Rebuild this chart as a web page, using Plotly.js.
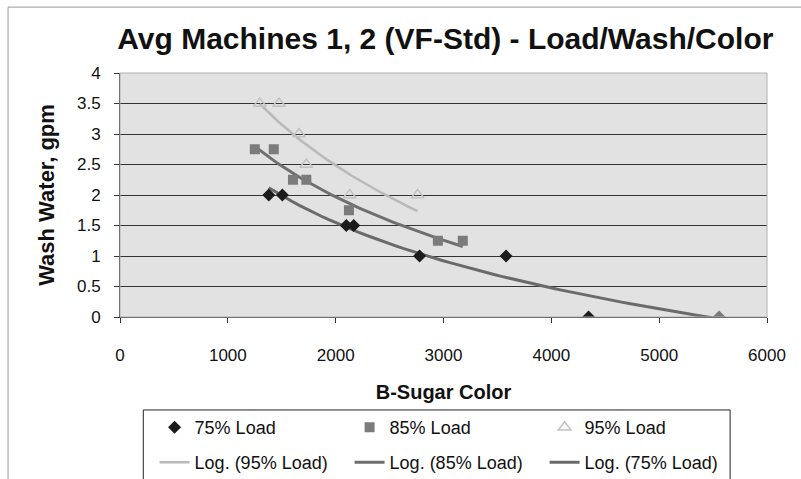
<!DOCTYPE html>
<html>
<head>
<meta charset="utf-8">
<script src="https://cdn.plot.ly/plotly-3.0.1.min.js"></script>
<style>
html,body{margin:0;padding:0;background:#fff;}
#chart{width:801px;height:479px;}
</style>
</head>
<body>
<div id="chart"></div>
<script>
// ---- data ----
const load75X = [1380, 1506, 2099, 2167, 2778, 3580, 4345, 5556];
const load75Y = [2.0, 2.0, 1.5, 1.5, 1.0, 1.0, 0.0, 0.0];
const load85X = [1250, 1426, 1604, 1728, 2123, 2948, 3179];
const load85Y = [2.75, 2.75, 2.25, 2.25, 1.75, 1.25, 1.25];
const load95X = [1296, 1475, 1660, 1728, 2130, 2760];
const load95Y = [3.5, 3.5, 3.0, 2.5, 2.0, 2.0];
const seriesNames = ['75% Load', '85% Load', '95% Load'];
const xTickVals = [0, 1000, 2000, 3000, 4000, 5000, 6000];
const yTickVals = [0, 0.5, 1, 1.5, 2, 2.5, 3, 3.5, 4];

// Excel-style logarithmic trendline: y = a*ln(x) + b, over the series range
function logFit(xs, ys) {
  const n = xs.length;
  const lx = xs.map(Math.log);
  const mx = lx.reduce((s, v) => s + v, 0) / n;
  const my = ys.reduce((s, v) => s + v, 0) / n;
  let sxy = 0, sxx = 0;
  for (let i = 0; i < n; i++) { sxy += (lx[i] - mx) * (ys[i] - my); sxx += (lx[i] - mx) ** 2; }
  const a = sxy / sxx, b = my - a * mx;
  const lo = Math.min(...xs), hi = Math.max(...xs);
  const tx = [], ty = [];
  for (let k = 0; k <= 60; k++) { const x = lo + (hi - lo) * k / 60; tx.push(x); ty.push(a * Math.log(x) + b); }
  return {x: tx, y: ty};
}
const t75 = logFit(load75X, load75Y);
const t85 = logFit(load85X, load85Y);
const t95 = logFit(load95X, load95Y);

const FONT = 'Liberation Sans, Arial, sans-serif';
const traces = [
  {x: t95.x, y: t95.y, mode: 'lines', name: 'Log. (95% Load)', legend: 'legend2',
   line: {color: '#b9b9b9', width: 2.5}},
  {x: t85.x, y: t85.y, mode: 'lines', name: 'Log. (85% Load)', legend: 'legend2',
   line: {color: '#6f6f6f', width: 3}},
  {x: t75.x, y: t75.y, mode: 'lines', name: 'Log. (75% Load)', legend: 'legend2',
   line: {color: '#6a6a6a', width: 3}},
  {x: load75X, y: load75Y, mode: 'markers', name: seriesNames[0], legend: 'legend',
   marker: {symbol: 'diamond', size: 10, color: ['#1c1c1c','#1c1c1c','#1c1c1c','#1c1c1c','#1c1c1c','#1c1c1c','#1c1c1c','#7a7a7a']}},
  {x: load85X, y: load85Y, mode: 'markers', name: seriesNames[1], legend: 'legend',
   marker: {symbol: 'square', size: 10, color: '#7b7b7b'}},
  {x: load95X, y: load95Y, mode: 'markers', name: seriesNames[2], legend: 'legend',
   marker: {symbol: 'triangle-up-open', size: 11, color: '#c2c2c2', line: {width: 1.5}}}
];

const layout = {
  width: 801, height: 479,
  margin: {l: 120, r: 34, t: 73, b: 162, autoexpand: false},
  paper_bgcolor: '#ffffff',
  plot_bgcolor: '#e2e2e2',
  font: {family: FONT, color: '#111', size: 16},
  title: {text: 'Avg Machines 1, 2 (VF-Std) - Load/Wash/Color',
          font: {family: FONT, size: 30, color: '#111', weight: 'bold'},
          x: 0.556, xanchor: 'center', y: 0.92, yanchor: 'middle'},
  xaxis: {range: [0, 6000], tickvals: xTickVals, ticks: 'outside', ticklen: 5, tickcolor: '#333',
          ticklabelstandoff: 18,
          showgrid: false, zeroline: false, showline: true, linecolor: '#333', linewidth: 1,
          tickfont: {size: 17, family: FONT, color: '#111'},
          title: {text: 'B-Sugar Color', font: {size: 20, family: FONT, weight: 'bold', color: '#111'}, standoff: 20}},
  yaxis: {range: [0, 4], tickvals: yTickVals, ticks: 'outside', ticklen: 5, tickcolor: '#333',
          ticklabelstandoff: 10,
          showgrid: true, gridcolor: '#333', gridwidth: 1, zeroline: false,
          showline: true, linecolor: '#333', linewidth: 1,
          tickfont: {size: 17, family: FONT, color: '#111'},
          title: {text: 'Wash Water, gpm', font: {size: 22, family: FONT, weight: 'bold', color: '#111'}, standoff: 16}},
  legend: {orientation: 'h', xref: 'container', yref: 'container', x: 0.193, xanchor: 'left', y: 0.146, yanchor: 'top',
           entrywidth: 150, bgcolor: 'rgba(0,0,0,0)', borderwidth: 0,
           font: {size: 18, family: FONT, color: '#111'}},
  legend2: {orientation: 'h', xref: 'container', yref: 'container', x: 0.193, xanchor: 'left', y: 0.073, yanchor: 'top',
           entrywidth: 150, bgcolor: 'rgba(0,0,0,0)', borderwidth: 0,
           font: {size: 18, family: FONT, color: '#111'}},
  shapes: [
    {type: 'rect', xref: 'paper', yref: 'paper', x0: 0.036, x1: 0.943, y0: -0.381, y1: -0.72,
     line: {color: '#222', width: 1}, fillcolor: 'rgba(0,0,0,0)', layer: 'below'},
    {type: 'rect', xref: 'paper', yref: 'paper', x0: 0, x1: 1, y0: 0, y1: 1,
     line: {color: '#b0b0b0', width: 1}, fillcolor: 'rgba(0,0,0,0)'},
    {type: 'rect', xref: 'paper', yref: 'paper', x0: -0.173, x1: 1.2, y0: -0.72, y1: 1.27,
     line: {color: '#999', width: 1}, fillcolor: 'rgba(0,0,0,0)', layer: 'below'}
  ],
  showlegend: true
};

Plotly.newPlot('chart', traces, layout, {displayModeBar: false, staticPlot: true});
</script>
</body>
</html>
